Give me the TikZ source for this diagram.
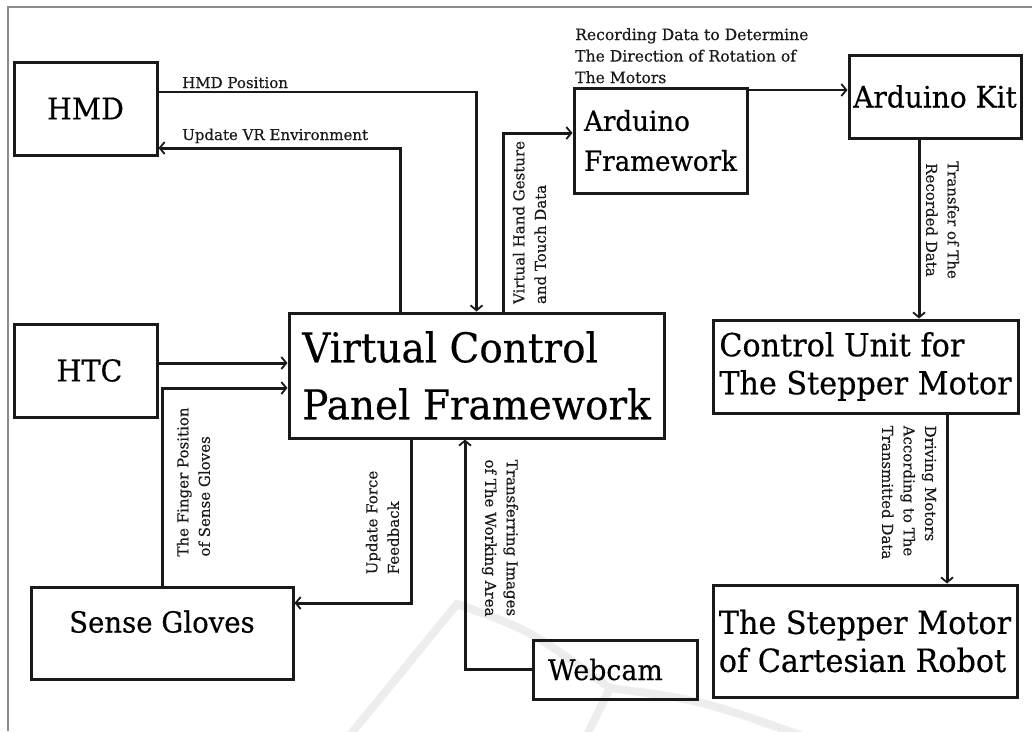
\documentclass[tikz,border=0pt]{standalone}
\usepackage{fontspec}
\setmainfont{DejaVu Serif}[FakeStretch=0.95,FakeBold=0.4]
\newfontfamily\labfont{DejaVu Serif}[FakeBold=0.3]
\usetikzlibrary{arrows.meta,calc}
\begin{document}
\begin{tikzpicture}[x=1pt,y=-1pt,
  box/.style={draw=black!90, line width=3pt, inner sep=0pt, align=left},
  conn/.style={line width=3pt, draw=black!90, -{Straight Barb[length=5pt,width=12pt,line width=1.8pt]}},
  thinconn/.style={conn, line width=2.3pt},
  lab/.style={inner sep=0pt, font=\labfont\fontsize{15}{21.5}\selectfont, align=left, text=black!90},
]
\useasboundingbox (0,0) rectangle (1032,731);
\fill[white] (0,0) rectangle (1032,731);
% frame
\draw[black!45, line width=1.2pt] (8,731) -- (8,7) -- (1032,7);
% watermark
\draw[black!7, line width=8pt, line cap=round] (350,735) -- (457,604) .. controls (530,630) .. (610,688) .. controls (700,700) .. (800,735);
\draw[black!7, line width=8pt] (610,688) -- (587,735);

% helper coordinates
\coordinate (yHP) at (0,92);
\coordinate (yUV) at (0,148);
\coordinate (xUV) at (400,0);
\coordinate (yHT) at (0,363);
\coordinate (ySG) at (0,388);
\coordinate (xUF) at (411,0);
\coordinate (yUF) at (0,603);
\coordinate (xTI) at (465,0);
\coordinate (xVH) at (503,0);
\coordinate (yVH) at (0,133);
\coordinate (yAK) at (0,90);
\coordinate (xTR) at (919,0);
\coordinate (xDM) at (947,0);

% boxes
\node[box, minimum width=143pt, minimum height=93pt, font=\fontsize{30}{36}\selectfont] (hmd) at (85.5,108.5) {HMD};
\node[box, minimum width=143pt, minimum height=93pt, text width=95pt, inner xsep=24pt, align=center, font=\fontsize{30}{36}\selectfont] (htc) at (85.5,370.5) {\hspace*{8pt}HTC};
\node[box, minimum width=262pt, minimum height=92pt, text depth=23pt, font=\fontsize{29}{36}\selectfont] (sg) at (162,633) {Sense Gloves};
\node[box, minimum width=375pt, minimum height=125pt, font=\fontsize{41}{57}\selectfont] (vcp) at (476.5,375.5) {Virtual Control\\Panel Framework};
\node[box, minimum width=173pt, minimum height=105pt, font=\fontsize{27.5}{40}\selectfont] (af) at (660.5,140.5) {Arduino\\Framework};
\node[box, minimum width=172pt, minimum height=83pt, font=\fontsize{29.5}{36}\selectfont] (kit) at (935,96.5) {Arduino Kit};
\node[box, minimum width=305pt, minimum height=93pt, font=\fontsize{31.8}{38}\selectfont] (cu) at (865.5,366.5) {Control Unit for\\The Stepper Motor};
\node[box, minimum width=304pt, minimum height=112pt, font=\fontsize{31.8}{38}\selectfont] (sm) at (865,641) {The Stepper Motor\\of Cartesian Robot};
\node[box, minimum width=164pt, minimum height=59pt, text width=134pt, inner xsep=15pt, align=left, font=\fontsize{28.2}{32}\selectfont] (cam) at (615,669.5) {Webcam};

% connectors
\draw[thinconn] (hmd.east |- yHP) -| (vcp.north);
\draw[conn] (vcp.north -| xUV) |- (hmd.east |- yUV);
\draw[conn] (htc.east |- yHT) -- (vcp.west |- yHT);
\draw[conn] (sg.north) |- (vcp.west |- ySG);
\draw[conn] (vcp.south -| xUF) |- (sg.east |- yUF);
\draw[conn] (cam.west) -| (vcp.south -| xTI);
\draw[conn] (vcp.north -| xVH) |- (af.west |- yVH);
\draw[thinconn] (af.east |- yAK) -- (kit.west |- yAK);
\draw[conn] (kit.south -| xTR) -- (cu.north -| xTR);
\draw[conn] (cu.south -| xDM) -- (sm.north -| xDM);

% labels
\node[lab, anchor=base west] (lhp) at (182,88) {HMD Position};
\node[lab, anchor=base west] (luv) at (182,140) {Update VR Environment};
\node[lab, anchor=north west, font=\labfont\fontsize{15.6}{21.5}\selectfont] (lrd) at (575,28) {Recording Data to Determine\\The Direction of Rotation of\\The Motors};
\node[lab, rotate=90] (lvh) at (529.5,222.5) {Virtual Hand Gesture\\and Touch Data};
\node[lab, rotate=-90, align=center] (ltr) at (942.5,220) {Transfer of The\\Recorded Data};
\node[lab, rotate=-90] (ldm) at (909,492.5) {Driving Motors\\According to The\\Transmitted Data};
\node[lab, rotate=-90, align=center] (lti) at (500,538) {Transferring Images\\of The Working Area};
\node[lab, rotate=90] (luf) at (382.5,522.5) {Update Force\\Feedback};
\node[lab, rotate=90] (lfp) at (193.5,482) {The Finger Position\\of Sense Gloves};
\end{tikzpicture}
\end{document}
